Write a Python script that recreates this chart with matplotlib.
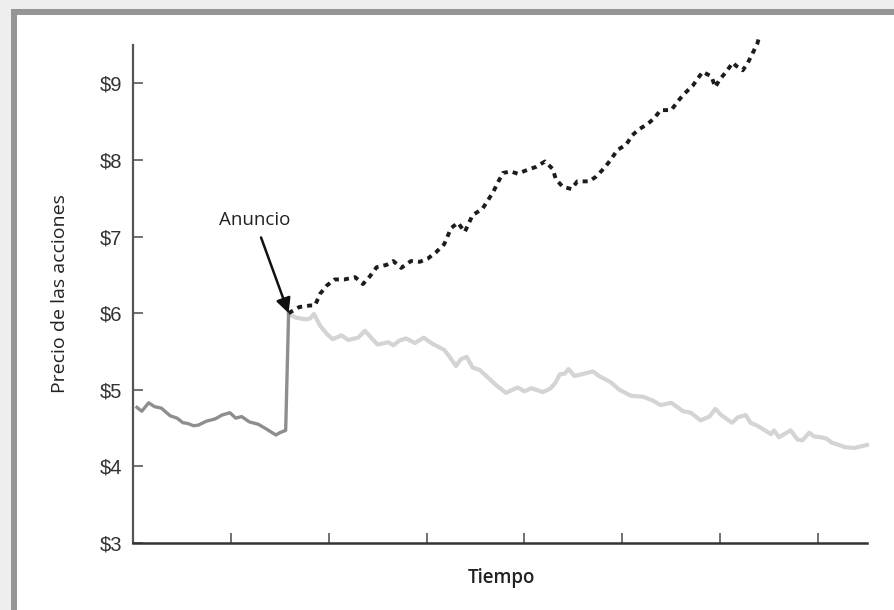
import matplotlib.pyplot as plt
from matplotlib.patches import Rectangle

# Precio antes del anuncio (gris oscuro)
tiempo_antes = [0.04, 0.09, 0.16, 0.22, 0.29, 0.38, 0.45, 0.51, 0.56, 0.62, 0.67, 0.75,
                0.84, 0.91, 0.99, 1.05, 1.11, 1.19, 1.28, 1.36, 1.46, 1.50, 1.56, 1.59]
precio_antes = [4.77, 4.72, 4.83, 4.78, 4.76, 4.66, 4.63, 4.57, 4.56, 4.53, 4.54, 4.59,
                4.62, 4.67, 4.70, 4.63, 4.65, 4.58, 4.55, 4.49, 4.41, 4.44, 4.47, 6.00]

# Precio despues del anuncio (gris claro)
tiempo_baja = [1.59, 1.62, 1.67, 1.76, 1.81, 1.85, 1.91, 1.98, 2.04, 2.13, 2.20, 2.30,
               2.37, 2.44, 2.50, 2.61, 2.66, 2.72, 2.79, 2.88, 2.97, 3.06, 3.18, 3.23,
               3.30, 3.35, 3.41, 3.47, 3.54, 3.61, 3.71, 3.81, 3.93, 4.00, 4.07, 4.19,
               4.27, 4.32, 4.36, 4.41, 4.45, 4.51, 4.61, 4.70, 4.76, 4.88, 4.97, 5.09,
               5.21, 5.31, 5.39, 5.50, 5.62, 5.70, 5.80, 5.89, 5.95, 6.01, 6.12, 6.18,
               6.26, 6.31, 6.38, 6.47, 6.52, 6.55, 6.60, 6.72, 6.79, 6.84, 6.91, 6.96,
               7.03, 7.09, 7.14, 7.28, 7.37, 7.50]
precio_baja = [6.00, 5.97, 5.94, 5.92, 5.93, 5.99, 5.84, 5.73, 5.66, 5.71, 5.65, 5.68,
               5.77, 5.67, 5.59, 5.62, 5.58, 5.64, 5.67, 5.61, 5.68, 5.60, 5.52, 5.44,
               5.31, 5.40, 5.43, 5.29, 5.26, 5.18, 5.06, 4.96, 5.03, 4.98, 5.02, 4.97,
               5.02, 5.10, 5.20, 5.21, 5.27, 5.18, 5.21, 5.24, 5.18, 5.10, 5.00, 4.92,
               4.91, 4.86, 4.80, 4.83, 4.72, 4.70, 4.60, 4.65, 4.75, 4.67, 4.57, 4.64,
               4.67, 4.57, 4.53, 4.46, 4.42, 4.47, 4.38, 4.47, 4.35, 4.34, 4.44, 4.39,
               4.38, 4.36, 4.31, 4.25, 4.24, 4.28]

# Precio despues del anuncio (punteado)
tiempo_alza = [1.59, 1.70, 1.81, 1.86, 1.91, 1.98, 2.06, 2.16, 2.27, 2.35, 2.42, 2.49,
               2.59, 2.66, 2.74, 2.84, 2.93, 3.01, 3.10, 3.18, 3.25, 3.32, 3.39, 3.47,
               3.57, 3.63, 3.68, 3.73, 3.78, 3.86, 3.93, 4.03, 4.12, 4.21, 4.29, 4.32,
               4.39, 4.48, 4.54, 4.66, 4.73, 4.82, 4.88, 4.95, 5.04, 5.10, 5.17, 5.26,
               5.33, 5.39, 5.50, 5.57, 5.63, 5.72, 5.82, 5.91, 5.95, 5.99, 6.06, 6.13,
               6.16, 6.23, 6.28, 6.33, 6.38, 6.40]
precio_alza = [6.00, 6.08, 6.10, 6.10, 6.25, 6.36, 6.44, 6.44, 6.47, 6.38, 6.48, 6.60,
               6.63, 6.68, 6.59, 6.68, 6.67, 6.71, 6.80, 6.90, 7.11, 7.18, 7.06, 7.28,
               7.36, 7.48, 7.58, 7.71, 7.83, 7.85, 7.82, 7.87, 7.91, 7.98, 7.88, 7.75,
               7.65, 7.62, 7.72, 7.72, 7.78, 7.90, 8.00, 8.13, 8.20, 8.32, 8.40, 8.47,
               8.55, 8.65, 8.65, 8.77, 8.86, 8.97, 9.15, 9.09, 8.95, 9.04, 9.15, 9.27,
               9.23, 9.17, 9.26, 9.39, 9.52, 9.62]

y_ticks = [3, 4, 5, 6, 7, 8, 9]
y_labels = ['$3', '$4', '$5', '$6', '$7', '$8', '$9']
x_ticks = [1, 2, 3, 4, 5, 6, 7]

W, H = 895, 610
fig = plt.figure(figsize=(W / 100, H / 100), dpi=100)
fig.patch.set_facecolor('white')

# marco gris alrededor de la figura
fig.add_artist(Rectangle((0, 1 - 9 / H), 1, 9 / H, transform=fig.transFigure,
                         color='#eeeeee', lw=0))
fig.add_artist(Rectangle((0, 0), 11 / W, 1, transform=fig.transFigure,
                         color='#eeeeee', lw=0))
fig.add_artist(Rectangle((11 / W, 1 - 15 / H), 1, 6 / H, transform=fig.transFigure,
                         color='#959595', lw=0))
fig.add_artist(Rectangle((11 / W, 0), 6 / W, 1 - 9 / H, transform=fig.transFigure,
                         color='#959595', lw=0))

ax = fig.add_axes([133 / W, 1 - 543 / H, 734 / W, 498 / H])

ax.plot(tiempo_baja, precio_baja, color='#d4d4d4', lw=3.0, solid_joinstyle='round',
        clip_on=False, zorder=2)
ax.plot(tiempo_antes, precio_antes, color='#8e8e8e', lw=2.4, solid_joinstyle='round',
        clip_on=False, zorder=3)
ax.plot(tiempo_alza, precio_alza, color='#1c1c1c', lw=2.8, linestyle=(0, (1.3, 1.3)),
        dash_capstyle='butt', clip_on=False, zorder=4)

ax.annotate('Anuncio', xy=(tiempo_antes[-1], precio_antes[-1]), xytext=(1.245, 7.21),
            ha='center', va='center', fontsize=13.5, family='Open Sans', color='#222222',
            arrowprops=dict(arrowstyle='-|>', color='#111111', lw=1.8,
                            mutation_scale=22, shrinkA=4, shrinkB=0))

ax.set_xlim(0, 7.5)
ax.set_ylim(3, 9.5)
ax.set_xticks(x_ticks)
ax.set_xticklabels([])
ax.set_yticks(y_ticks)
ax.set_yticklabels(y_labels, family='Liberation Sans', fontsize=14.5, color='#333333')
ax.tick_params(direction='in', length=7, width=1.3, color='#666666', pad=8)

for s in ['top', 'right']:
    ax.spines[s].set_visible(False)
ax.spines['left'].set_color('#555555')
ax.spines['left'].set_linewidth(1.6)
ax.spines['bottom'].set_color('#333333')
ax.spines['bottom'].set_linewidth(1.8)

fig.text(60 / W, 1 - 294 / H, 'Precio de las acciones', rotation=90, ha='center',
         va='center', fontsize=14, family='Open Sans', color='#222222')
fig.text(501 / W, 1 - 578 / H, 'Tiempo', ha='center', va='center', fontsize=13.5,
         family='Open Sans', fontweight='semibold', color='#222222')

fig.savefig('out.png', dpi=100)
